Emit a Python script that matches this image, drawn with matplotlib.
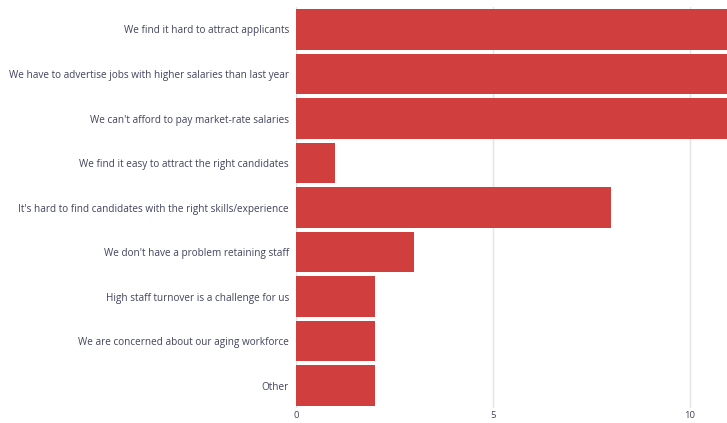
import matplotlib
matplotlib.use("Agg")
import matplotlib.pyplot as plt

categories = [
    "We find it hard to attract applicants",
    "We have to advertise jobs with higher salaries than last year",
    "We can't afford to pay market-rate salaries",
    "We find it easy to attract the right candidates",
    "It's hard to find candidates with the right skills/experience",
    "We don't have a problem retaining staff",
    "High staff turnover is a challenge for us",
    "We are concerned about our aging workforce",
    "Other",
]
values = [12, 12, 12, 1, 8, 3, 2, 2, 2]
xticks = [0, 5, 10]

plt.rcParams['font.family'] = ['Open Sans', 'DejaVu Sans']
fig = plt.figure(figsize=(7.27, 4.23), dpi=100)
ax = fig.add_axes([296/727, 15.25/423, 431/727, 400.5/423])

ypos = list(range(len(categories)))
ax.barh(ypos, values, height=0.92, color="#D03E3E", zorder=3)
ax.set_yticks(ypos)
ax.set_yticklabels(categories, fontsize=7.2, color="#41445e")
ax.set_ylim(len(categories) - 0.5, -0.5)
ax.set_xlim(0, 431/39.4)
ax.set_xticks(xticks)
ax.set_xticklabels([str(t) for t in xticks], fontsize=6.8, color="#41445e")
ax.grid(axis='x', color="#e3e3e8", linewidth=1, zorder=0)
for s in ax.spines.values():
    s.set_visible(False)
ax.tick_params(axis='both', length=0)
ax.tick_params(axis='y', pad=5)
ax.tick_params(axis='x', pad=2)
fig.savefig("out.png", dpi=100)
